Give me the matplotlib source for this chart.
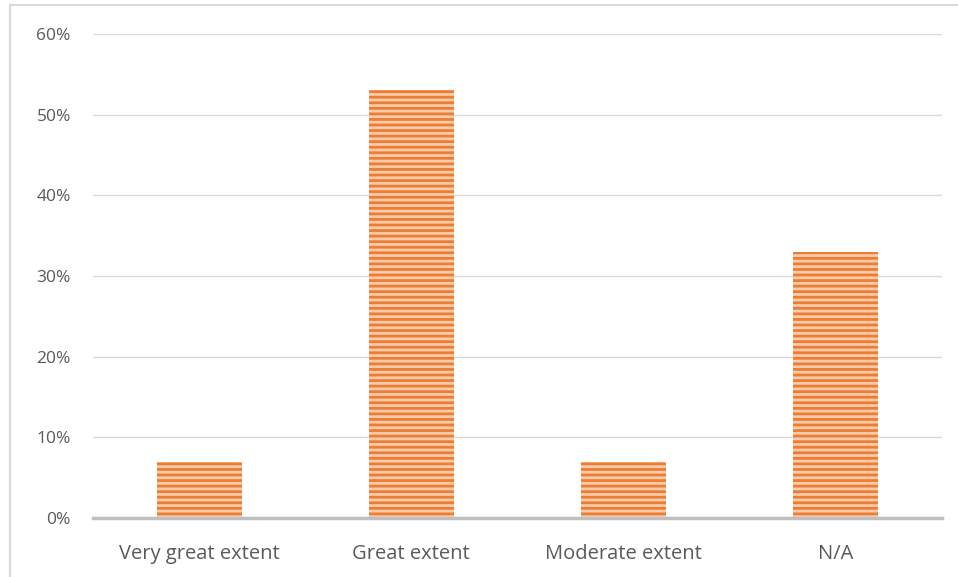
import matplotlib
matplotlib.use("Agg")
import matplotlib.pyplot as plt
from matplotlib.patches import Rectangle
from matplotlib.ticker import PercentFormatter

categories = ["Very great extent", "Great extent", "Moderate extent", "N/A"]
values = [7, 53, 7, 33]
yticks = [0, 10, 20, 30, 40, 50, 60]

plt.rcParams["font.family"] = ["Open Sans", "DejaVu Sans"]
plt.rcParams["hatch.linewidth"] = 2.0

fig = plt.figure(figsize=(9.58, 5.77), dpi=100)
# outer chart border, open at the bottom and right edges
fig.patches.append(Rectangle((10 / 958, -0.2), 1.2, 0.2 + (577 - 5) / 577, transform=fig.transFigure,
                             fill=False, edgecolor="#D9D9D9", linewidth=1.5))

ax = fig.add_axes([93 / 958, 1 - 518 / 577, (942 - 93) / 958, (518 - 34) / 577])
x = range(len(categories))
ax.bar(x, values, width=0.4, color="#F8CBAD", edgecolor="#ED7D31", hatch="---",
       linewidth=0, zorder=3)

ax.set_xlim(-0.5, len(categories) - 0.5)
ax.set_ylim(0, 60)
ax.set_yticks(yticks)
ax.yaxis.set_major_formatter(PercentFormatter(decimals=0))
ax.set_xticks(list(x))
ax.set_xticklabels(categories)
ax.grid(axis="y", color="#D9D9D9", linewidth=1, zorder=0)
for s in ["top", "right", "left"]:
    ax.spines[s].set_visible(False)
ax.spines["bottom"].set_color("#BFBFBF")
ax.spines["bottom"].set_linewidth(2.5)
ax.spines["bottom"].set_zorder(4)
ax.tick_params(axis="both", length=0, colors="#595959")
ax.tick_params(axis="y", pad=16, labelsize=12.5)
ax.tick_params(axis="x", pad=19, labelsize=14.5)

fig.savefig("out.png", dpi=100)
